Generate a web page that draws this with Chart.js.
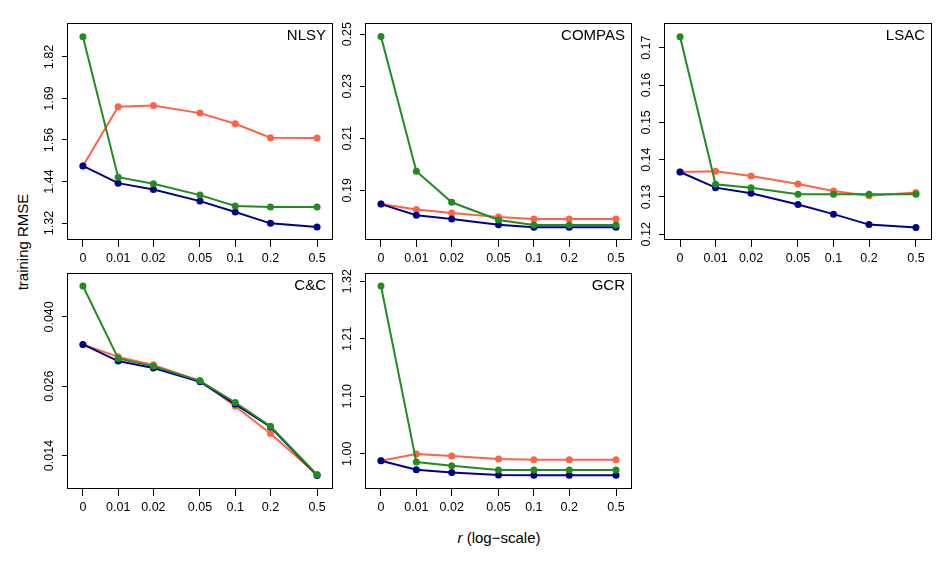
<!DOCTYPE html>
<html>
<head>
<meta charset="utf-8">
<script src="https://cdn.jsdelivr.net/npm/chart.js@4/dist/chart.umd.min.js"></script>
<style>
  html, body { margin: 0; padding: 0; background: #ffffff; }
  body { width: 947px; height: 568px; position: relative; overflow: hidden; font-family: 'Liberation Sans', Arial, sans-serif; }
  canvas { position: absolute; }
  .ylab { position: absolute; left: 22px; top: 242px; transform: translate(-50%, -50%) rotate(-90deg); font-size: 15px; white-space: nowrap; color: #000; }
  .xlab { position: absolute; left: 499px; top: 537px; transform: translate(-50%, -50%); font-size: 15px; white-space: nowrap; color: #000; }
</style>
</head>
<body>
<div class="ylab">training RMSE</div>
<div class="xlab"><i>r</i> (log&#8722;scale)</div>
<script>
// ---------- data ----------
const rValues = [0, 0.01, 0.02, 0.05, 0.1, 0.2, 0.5];
const xTickLabels = ['0', '0.01', '0.02', '0.05', '0.1', '0.2', '0.5'];
const panelNames = ['NLSY', 'COMPAS', 'LSAC', 'C&C', 'GCR'];

const nlsyOrange = [1.492, 1.670, 1.674, 1.651, 1.619, 1.577, 1.576];
const nlsyBlue   = [1.492, 1.440, 1.421, 1.386, 1.353, 1.319, 1.308];
const nlsyGreen  = [1.881, 1.458, 1.438, 1.404, 1.371, 1.368, 1.368];
const nlsyYTicks = ['1.32', '1.44', '1.56', '1.69', '1.82'];

const compasOrange = [0.1847, 0.1826, 0.1813, 0.1797, 0.1790, 0.1790, 0.1790];
const compasBlue   = [0.1847, 0.1804, 0.1790, 0.1768, 0.1758, 0.1758, 0.1758];
const compasGreen  = [0.2491, 0.1973, 0.1854, 0.1786, 0.1767, 0.1767, 0.1767];
const compasYTicks = ['0.19', '0.21', '0.23', '0.25'];

const lsacOrange = [0.1367, 0.1369, 0.1356, 0.1335, 0.1316, 0.1303, 0.1312];
const lsacBlue   = [0.1367, 0.1325, 0.1310, 0.1280, 0.1254, 0.1226, 0.1218];
const lsacGreen  = [0.17295, 0.1334, 0.1325, 0.1307, 0.1307, 0.1307, 0.1307];
const lsacYTicks = ['0.12', '0.13', '0.14', '0.15', '0.16', '0.17'];

const ccOrange = [0.03484, 0.0325, 0.0310, 0.0280, 0.02325, 0.01814, 0.0104];
const ccBlue   = [0.03484, 0.03171, 0.0304, 0.02784, 0.02365, 0.01936, 0.01026];
const ccGreen  = [0.0458, 0.0322, 0.03072, 0.0280, 0.02394, 0.0195, 0.0104];
const ccYTicks = ['0.014', '0.026', '0.040'];

const gcrOrange = [0.9871, 0.9994, 0.9957, 0.9902, 0.9889, 0.9889, 0.9889];
const gcrBlue   = [0.9871, 0.9704, 0.9654, 0.9606, 0.9600, 0.9600, 0.9600];
const gcrGreen  = [1.3113, 0.9846, 0.9778, 0.9698, 0.9698, 0.9698, 0.9698];
const gcrYTicks = ['1.00', '1.10', '1.21', '1.32'];

// ---------- layout / style ----------
const COL_ORANGE = '#FF6347';
const COL_BLUE = '#00008B';
const COL_GREEN = '#228B22';
const FONT = "'Liberation Sans', Arial, sans-serif";

const panels = [
  { name: panelNames[0], orange: nlsyOrange, blue: nlsyBlue, green: nlsyGreen, yTicks: nlsyYTicks, ymin: 1.2688, ymax: 1.9224, box: { left: 67, top: 23, w: 266, h: 217 } },
  { name: panelNames[1], orange: compasOrange, blue: compasBlue, green: compasGreen, yTicks: compasYTicks, ymin: 0.1709, ymax: 0.2543, box: { left: 365, top: 23, w: 267, h: 217 } },
  { name: panelNames[2], orange: lsacOrange, blue: lsacBlue, green: lsacGreen, yTicks: lsacYTicks, ymin: 0.11847, ymax: 0.17662, box: { left: 664, top: 23, w: 268, h: 217 } },
  { name: panelNames[3], orange: ccOrange, blue: ccBlue, green: ccGreen, yTicks: ccYTicks, ymin: 0.00772, ymax: 0.04823, box: { left: 67, top: 273, w: 266, h: 216 } },
  { name: panelNames[4], orange: gcrOrange, blue: gcrBlue, green: gcrGreen, yTicks: gcrYTicks, ymin: 0.9347, ymax: 1.3354, box: { left: 365, top: 273, w: 267, h: 216 } }
];

const ML = 60, MT = 20, MR = 8, MB = 36;
const X_MIN = -2.437, X_MAX = -0.165;

function xPos(r) { return r === 0 ? Math.log10(0.005) : Math.log10(r); }
const xTickValues = rValues.map(xPos);

function toPoints(vals) { return vals.map((v, i) => ({ x: xPos(rValues[i]), y: v })); }

const decorPlugin = {
  id: 'decor',
  afterDraw(chart) {
    const ctx = chart.ctx;
    const a = chart.chartArea;
    const p = chart.options.plugins.decor;
    ctx.save();
    // box
    ctx.strokeStyle = '#000';
    ctx.lineWidth = 1;
    ctx.strokeRect(Math.round(a.left) + 0.5, Math.round(a.top) + 0.5, Math.round(a.right - a.left) - 1, Math.round(a.bottom - a.top) - 1);
    // y tick labels (rotated, R style)
    const ys = chart.scales.y;
    ctx.fillStyle = '#000';
    ctx.font = '12.5px ' + FONT;
    ctx.textAlign = 'center';
    ctx.textBaseline = 'middle';
    ys.ticks.forEach((t, i) => {
      const py = ys.getPixelForValue(t.value);
      ctx.save();
      ctx.translate(a.left - 17.5, py);
      ctx.rotate(-Math.PI / 2);
      ctx.fillText(p.yLabels[i], 0, 0);
      ctx.restore();
    });
    // panel name
    ctx.font = '15px ' + FONT;
    ctx.textAlign = 'right';
    ctx.textBaseline = 'middle';
    ctx.fillText(p.title, a.right - 7, a.top + 12.5);
    ctx.restore();
  }
};

panels.forEach((pn) => {
  const cv = document.createElement('canvas');
  const cw = pn.box.w + ML + MR, ch = pn.box.h + MT + MB;
  cv.width = cw; cv.height = ch;
  cv.style.left = (pn.box.left - ML) + 'px';
  cv.style.top = (pn.box.top - MT) + 'px';
  cv.style.width = cw + 'px'; cv.style.height = ch + 'px';
  document.body.appendChild(cv);

  const first = parseFloat(pn.yTicks[0]);
  const last = parseFloat(pn.yTicks[pn.yTicks.length - 1]);
  const n = pn.yTicks.length;
  const yTickValues = pn.yTicks.map((_, i) => first + (last - first) * i / (n - 1));

  const ds = (data, color) => ({
    data: toPoints(data),
    borderColor: color,
    backgroundColor: color,
    borderWidth: 2,
    pointRadius: 3.5,
    pointBorderWidth: 0,
    pointBackgroundColor: color,
    tension: 0,
    fill: false
  });

  new Chart(cv, {
    type: 'line',
    data: { datasets: [ds(pn.green, COL_GREEN), ds(pn.blue, COL_BLUE), ds(pn.orange, COL_ORANGE)] },
    options: {
      responsive: false,
      animation: false,
      devicePixelRatio: 1,
      layout: { padding: { left: 0, top: MT, right: MR, bottom: 0 } },
      plugins: {
        legend: { display: false },
        tooltip: { enabled: false },
        decor: { title: pn.name, yLabels: pn.yTicks }
      },
      scales: {
        x: {
          type: 'linear',
          min: X_MIN, max: X_MAX,
          afterBuildTicks: (s) => { s.ticks = xTickValues.map(v => ({ value: v })); },
          afterFit: (s) => { s.height = MB; },
          ticks: {
            autoSkip: false, maxRotation: 0, minRotation: 0,
            color: '#000', padding: 4,
            font: { size: 12.5, family: FONT },
            callback: (v, i) => xTickLabels[i]
          },
          grid: { drawOnChartArea: false, drawTicks: true, tickLength: 7, color: '#000', lineWidth: 1 },
          border: { display: false }
        },
        y: {
          type: 'linear',
          min: pn.ymin, max: pn.ymax,
          afterBuildTicks: (s) => { s.ticks = yTickValues.map(v => ({ value: v })); },
          afterFit: (s) => { s.width = ML; },
          ticks: { display: false },
          grid: { drawOnChartArea: false, drawTicks: true, tickLength: 5, color: '#000', lineWidth: 1 },
          border: { display: false }
        }
      }
    },
    plugins: [decorPlugin]
  });
});
</script>
</body>
</html>
